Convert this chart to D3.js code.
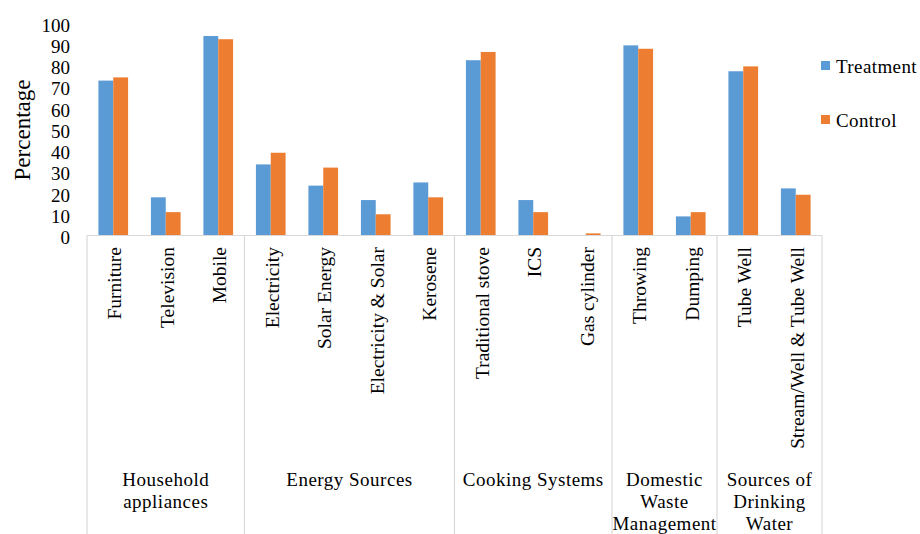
<!DOCTYPE html>
<html>
<head>
<meta charset="utf-8">
<script src="https://cdn.jsdelivr.net/npm/d3@7/dist/d3.min.js"></script>
<style>
  html, body { margin: 0; padding: 0; background: #fff; }
  svg { display: block; }
  svg text { font-family: "Liberation Serif", Tinos, "Times New Roman", Times, "DejaVu Serif", serif; }
</style>
</head>
<body>
<svg id="chart" width="920" height="534"></svg>
<script>
// Household survey: share of respondents (%) by item, treatment vs control
const categories = [
  "Furniture", "Television", "Mobile",
  "Electricity", "Solar Energy", "Electricity & Solar", "Kerosene",
  "Traditional stove", "ICS", "Gas cylinder",
  "Throwing", "Dumping",
  "Tube Well", "Stream/Well & Tube Well"
];
const treatment = [73, 18, 94, 33.5, 23.5, 16.7, 25, 82.6, 16.7, 0, 89.6, 9, 77.4, 22.2];
const control   = [74.5, 11, 92.5, 39, 32, 10, 18, 86.5, 11, 1, 88, 11, 79.7, 19.2];
const seriesNames = ["Treatment", "Control"];
const groupLabels = [
  ["Household", "appliances"],
  ["Energy Sources"],
  ["Cooking Systems"],
  ["Domestic", "Waste", "Management"],
  ["Sources of", "Drinking", "Water"]
];
const groupSizes = [3, 4, 3, 2, 2];
const yTicks = [0, 10, 20, 30, 40, 50, 60, 70, 80, 90, 100];

const colors = { Treatment: "#5b9bd5", Control: "#ed7d31" };
const svg = d3.select("#chart");

const plotLeft = 87, plotRight = 822, plotBase = 235.5, plotTop = 23.3;
const x0 = d3.scaleBand().domain(d3.range(categories.length)).range([plotLeft, plotRight]).paddingInner(0).paddingOuter(0);
const x1 = d3.scaleBand().domain(seriesNames).range([0, x0.bandwidth()]).paddingInner(0).paddingOuter(0.77);
const y = d3.scaleLinear().domain([0, 100]).range([plotBase, plotTop]);

const rows = categories.map((c, i) => ({ i, c, values: [
  { s: "Treatment", v: treatment[i] },
  { s: "Control", v: control[i] }
]}));

// bars
const g = svg.append("g");
g.selectAll("g.cat").data(rows).join("g")
  .attr("class", "cat")
  .attr("transform", d => `translate(${x0(d.i)},0)`)
  .selectAll("rect").data(d => d.values).join("rect")
  .attr("x", d => x1(d.s))
  .attr("width", x1.bandwidth())
  .attr("y", d => y(d.v))
  .attr("height", d => plotBase - y(d.v))
  .attr("fill", d => colors[d.s]);

// y axis (labels only)
const yAxis = svg.append("g")
  .attr("transform", `translate(${plotLeft},0)`)
  .call(d3.axisLeft(y).tickValues(yTicks).tickSize(0).tickPadding(17));
yAxis.attr("font-family", null);
yAxis.select(".domain").remove();
yAxis.selectAll("text")
  .attr("font-size", 19)
  .attr("fill", "#000")
  .attr("dy", "0.42em");

svg.append("text")
  .attr("transform", "translate(22,130) rotate(-90)")
  .attr("text-anchor", "middle")
  .attr("dy", "0.35em")
  .attr("font-size", 23)
  .text("Percentage");

// category axis line and group separators
const lineColor = "#d9d9d9";
svg.append("line")
  .attr("x1", plotLeft).attr("x2", plotRight).attr("y1", plotBase).attr("y2", plotBase)
  .attr("stroke", lineColor).attr("stroke-width", 1.2);

let start = 0;
const bounds = [0];
groupSizes.forEach(n => { start += n; bounds.push(start); });
const boundX = k => k === categories.length ? plotRight : x0(k);
svg.selectAll("line.sep").data(bounds).join("line")
  .attr("class", "sep")
  .attr("x1", boundX)
  .attr("x2", boundX)
  .attr("y1", plotBase).attr("y2", 534)
  .attr("stroke", lineColor).attr("stroke-width", 1.2);

// category labels, rotated
svg.selectAll("text.cat").data(rows).join("text")
  .attr("class", "cat")
  .attr("transform", d => `translate(${x0(d.i) + x0.bandwidth() / 2 + 1},247) rotate(-90)`)
  .attr("text-anchor", "end")
  .attr("dy", "0.35em")
  .attr("font-size", 19.5)
  .text(d => d.c);

// group labels
groupLabels.forEach((lines, gi) => {
  const a = boundX(bounds[gi]);
  const b = boundX(bounds[gi + 1]);
  const t = svg.append("text")
    .attr("text-anchor", "middle")
    .attr("font-size", 19)
    .attr("letter-spacing", 0.5);
  lines.forEach((ln, li) => {
    t.append("tspan")
      .attr("x", (a + b) / 2)
      .attr("y", 486 + li * 22)
      .text(ln);
  });
});

// legend
const legend = svg.append("g");
seriesNames.forEach((s, i) => {
  const ly = 61 + i * 54;
  legend.append("rect")
    .attr("x", 821).attr("y", ly).attr("width", 9).attr("height", 9)
    .attr("fill", colors[s]);
  legend.append("text")
    .attr("x", 836).attr("y", ly + 11.5)
    .attr("font-size", 19)
    .attr("letter-spacing", 0.4)
    .text(s);
});
</script>
</body>
</html>
